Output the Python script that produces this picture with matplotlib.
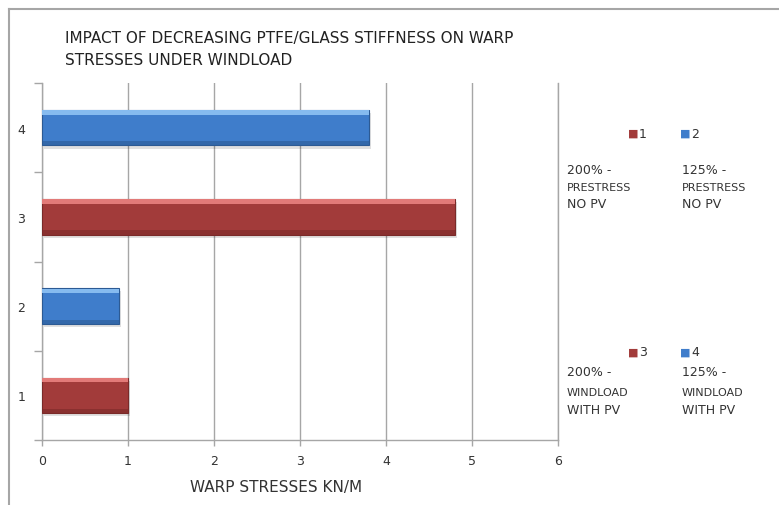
import matplotlib.pyplot as plt
from matplotlib.lines import Line2D

# warp stress results for the four load cases
cases = [1, 2, 3, 4]
stresses = [1.0, 0.9, 4.8, 3.8]
case_colors = ["#a23b3a", "#3f7dcb", "#a23b3a", "#3f7dcb"]
light_colors = ["#e27a78", "#86bbef", "#e27a78", "#86bbef"]
dark_colors = ["#7a2a29", "#2c5a94", "#7a2a29", "#2c5a94"]

title_lines = ["IMPACT OF DECREASING PTFE/GLASS STIFFNESS ON WARP",
               "STRESSES UNDER WINDLOAD"]
x_label = "WARP STRESSES KN/M"
legend_top = [("1", ["200% -", "PRESTRESS", "NO PV"]),
              ("2", ["125% -", "PRESTRESS", "NO PV"])]
legend_bottom = [("3", ["200% -", "WINDLOAD", "WITH PV"]),
                 ("4", ["125% -", "WINDLOAD", "WITH PV"])]

grid_grey = "#a6a6a6"
text_col = "#333333"
W, H = 779, 506

fig = plt.figure(figsize=(7.79, 5.06), dpi=100)
fig.patch.set_facecolor("white")

# chart frame (only top and left edges fall inside the image)
fig.add_artist(Line2D([9 / W, 9 / W], [0, 1 - 10 / H], transform=fig.transFigure,
                      color=grid_grey, lw=1.5))
fig.add_artist(Line2D([9 / W, 1], [1 - 10 / H, 1 - 10 / H], transform=fig.transFigure,
                      color=grid_grey, lw=1.5))

ax = fig.add_axes([42 / W, 65 / H, (558 - 42) / W, (441 - 84) / H])

bar_h = 0.4
# soft drop shadow
ax.barh([c - 0.035 for c in cases], stresses, height=bar_h, left=0.02,
        color="#000000", alpha=0.12, zorder=2)
ax.barh(cases, stresses, height=bar_h, color=case_colors, zorder=3,
        edgecolor=dark_colors, linewidth=0.8)
# bevel highlight on the upper face and darker lower edge
ax.barh([c + bar_h / 2 - 0.03 for c in cases], stresses, height=0.05,
        color=light_colors, zorder=4, linewidth=0)
ax.barh([c - bar_h / 2 + 0.025 for c in cases], stresses, height=0.05,
        color=dark_colors, alpha=0.6, zorder=4, linewidth=0)

ax.set_xlim(0, 6)
ax.set_ylim(0.5, 4.5)
ax.set_xticks(range(0, 7))
ax.set_yticks(cases)
ax.set_yticks([0.5, 1.5, 2.5, 3.5, 4.5], minor=True)
ax.tick_params(axis="y", which="major", length=0, pad=12, labelsize=9, labelcolor=text_col)
ax.tick_params(axis="y", which="minor", length=6, color=grid_grey, width=1)
ax.tick_params(axis="x", length=4, color=grid_grey, width=1, labelsize=9,
               labelcolor=text_col, pad=6)
ax.grid(axis="x", color=grid_grey, lw=1, zorder=0)
ax.set_axisbelow(True)
ax.spines["top"].set_visible(False)
for side in ["left", "bottom", "right"]:
    ax.spines[side].set_color(grid_grey)
    ax.spines[side].set_linewidth(1)

fig.text(190 / W, 1 - 492 / H, x_label, fontsize=11, color=text_col, va="baseline")

fig.text(65 / W, 1 - 43 / H, title_lines[0], fontsize=11, color="#222222",
         va="baseline")
fig.text(65 / W, 1 - 65 / H, title_lines[1], fontsize=11, color="#222222",
         va="baseline")


def legend_group(entries, marker_y, line_ys):
    xs_marker = [628, 680]
    xs_label = [567, 682]
    for (name, desc), xm, xl in zip(entries, xs_marker, xs_label):
        color = case_colors[cases.index(int(name))]
        fig.text(xm / W, 1 - marker_y / H, "\u25a0", fontsize=8, color=color,
                 va="center", ha="left")
        fig.text((xm + 11) / W, 1 - marker_y / H, name, fontsize=9,
                 color=text_col, va="center", ha="left")
        for line, ly in zip(desc, line_ys):
            size = 8 if line.isalpha() and len(line) > 6 else 9
            fig.text(xl / W, 1 - ly / H, line, fontsize=size, color="#333333",
                     va="center", ha="left")


legend_group(legend_top, 134, [170, 188, 205])
legend_group(legend_bottom, 353, [373, 393, 411])

fig.savefig("out.png", dpi=100)
